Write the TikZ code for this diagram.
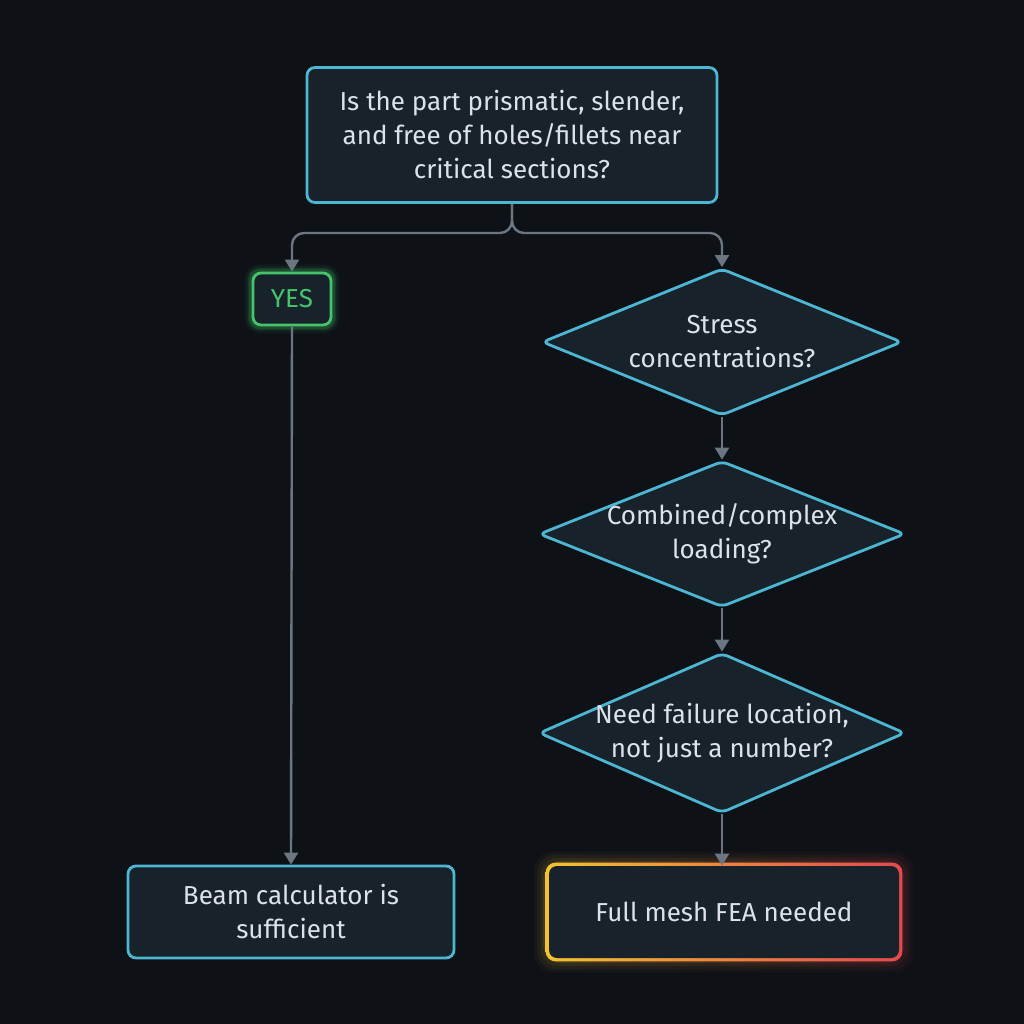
\documentclass[tikz,border=0pt]{standalone}
\usepackage{fontspec}
\setmainfont{Fira Sans}
\usetikzlibrary{shapes.geometric,arrows.meta,backgrounds,calc}
\definecolor{bgc}{HTML}{0E1217}
\definecolor{boxfill}{HTML}{17222B}
\definecolor{cyanb}{HTML}{4DB6D2}
\definecolor{txt}{HTML}{DCE2E8}
\definecolor{greenb}{HTML}{45C46C}
\definecolor{conn}{HTML}{6C7682}
\definecolor{yel}{HTML}{F2C232}
\definecolor{redb}{HTML}{E5484E}
\tikzset{
  base/.style={font=\fontsize{13}{17}\selectfont, text=txt, align=center, inner sep=0pt},
  box/.style={base, rectangle, rounded corners=4pt, draw=cyanb, line width=1.4pt, fill=boxfill},
  decision/.style={diamond, rounded corners=3pt, draw=cyanb, line width=1.4pt, fill=boxfill, inner sep=0pt},
  yesbox/.style={base, rectangle, rounded corners=4pt, draw=greenb, line width=1.4pt, fill=boxfill, text=greenb},
  feabox/.style={base, rectangle, rounded corners=4pt, fill=boxfill},
  conn/.style={draw=conn, line width=1.2pt, -{Triangle[width=7pt,length=6pt]}},
}
\begin{document}
\begin{tikzpicture}[x=0.5pt,y=-0.5pt]
\begin{scope}[on background layer]
\fill[bgc] (0,0) rectangle (1024,1024);
\end{scope}
\useasboundingbox (0,0) rectangle (1024,1024);

\node[box, minimum width=205pt, minimum height=67.5pt] (q) at (512,135)
  {Is the part prismatic, slender,\\and free of holes/fillets near\\critical sections?};
\node[yesbox, minimum width=39pt, minimum height=26pt] (yes) at (292,299) {YES};
\node[decision, minimum width=180pt, minimum height=73.5pt] (d1) at (722,342) {};
\node[base] (t1) at (d1.center) {Stress\\concentrations?};
\node[decision, minimum width=183pt, minimum height=73pt] (d2) at (722,534) {};
\node[base] (t2) at (d2.center) {Combined/complex\\loading?};
\node[decision, minimum width=183pt, minimum height=80pt] (d3) at (722,733) {};
\node[base] (t3) at (d3.center) {Need failure location,\\not just a number?};
\node[box, minimum width=163pt, minimum height=46pt] (beam) at (291,912)
  {Beam calculator is\\sufficient};
\node[feabox, minimum width=175pt, minimum height=46pt] (fea) at (724,912)
  {Full mesh FEA needed};

\begin{scope}[on background layer]
  \foreach \w/\o in {7/0.05,5/0.07,3.5/0.1,2.5/0.14}{
    \draw[greenb, opacity=\o, line width=\w pt, rounded corners=4pt]
      (yes.north west) rectangle (yes.south east);
  }
  \foreach \w/\o in {7/0.04,5.5/0.05,4/0.07,2.5/0.1}{
    \shade[left color=yel, right color=redb, opacity=\o, rounded corners=9pt]
      ($(fea.north west)+(-2*\w,-2*\w)$) rectangle ($(fea.south east)+(2*\w,2*\w)$);
  }
  \shade[left color=yel, right color=redb, rounded corners=5pt]
    ($(fea.north west)+(-3,-3)$) rectangle ($(fea.south east)+(3,3)$);
\end{scope}

\draw[conn, rounded corners=6pt] (q.south) -- (512,233) -| (yes.north);
\draw[conn, rounded corners=6pt] (q.south) -- (512,233) -| (d1.north);
\draw[conn] (yes.south) -- (beam.north);
\draw[conn] (d1.south) -- (d2.north);
\draw[conn] (d2.south) -- (d3.north);
\draw[conn] (d3.south) -- (fea.north -| d3.south);
\end{tikzpicture}
\end{document}
